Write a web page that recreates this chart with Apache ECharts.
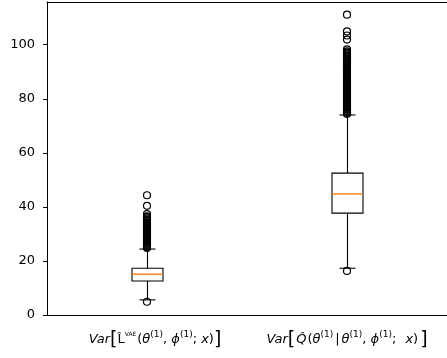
<!DOCTYPE html>
<html>
<head>
<meta charset="utf-8">
<script src="https://cdn.jsdelivr.net/npm/echarts@6/dist/echarts.min.js"></script>
<style>
  html, body { margin: 0; padding: 0; background: #fff; }
  #chart { width: 447px; height: 358px; }
</style>
</head>
<body>
<div id="chart"></div>
<script>
// x categories (rich-text math labels)
var categories = [
  '{gap|}{v|Var}{b|[}{h|L\u0302}{t|VAE}{n|(}{v|θ}{s|(1)}{n|, }{v|ϕ}{s|(1)}{n|; }{v|x}{n|)}{b|]}',
  '{v|Var}{b|[}{hq|Q\u0302}{n|(}{v|θ}{s|(1)}{bar||}{v|θ}{s|(1)}{n|, }{v|ϕ}{s|(1)}{semi|; }{v|x}{n|)}{rb|]}'
];

// box stats: [low whisker, q1, median, q3, high whisker]
var statsL = [5.6, 12.6, 15.1, 17.3, 24.4];
var statsQ = [17.3, 37.7, 44.8, 52.5, 74.0];

// outliers
var outliersL = [4.9,
  24.8, 25.2, 25.5, 25.9, 26.3, 26.6, 27.0, 27.4, 27.8, 28.1, 28.5, 28.8, 29.2, 29.6,
  29.9, 30.3, 30.7, 31.0, 31.4, 31.8, 32.1, 32.5, 32.9, 33.2, 33.6, 34.0, 34.3, 34.7,
  35.1, 35.4, 35.8, 36.2, 36.5, 37.3, 40.4, 44.3];
var outliersQ = [16.3,
  74.4, 74.8, 75.1, 75.5, 75.9, 76.2, 76.6, 77.0, 77.3, 77.7, 78.1, 78.4, 78.8, 79.2,
  79.5, 79.9, 80.3, 80.6, 81.0, 81.4, 81.7, 82.1, 82.5, 82.8, 83.2, 83.6, 83.9, 84.3,
  84.7, 85.0, 85.4, 85.8, 86.1, 86.5, 86.9, 87.2, 87.6, 88.0, 88.3, 88.7, 89.1, 89.4,
  89.8, 90.2, 90.5, 90.9, 91.3, 91.6, 92.0, 92.4, 92.7, 93.1, 93.5, 93.8, 94.2, 94.6,
  94.9, 95.3, 95.7, 96.0, 96.4, 96.8, 97.1, 97.5, 98.3, 101.9, 103.4, 104.9, 111.1];

var yTicks = [0, 20, 40, 60, 80, 100];

var boxData = [[0].concat(statsL), [1].concat(statsQ)];
var fliers = outliersL.map(function (v) { return [0, v]; })
  .concat(outliersQ.map(function (v) { return [1, v]; }));

function renderBox(params, api) {
  var i = api.value(0);
  var pMin = api.coord([i, api.value(1)]);
  var pQ1 = api.coord([i, api.value(2)]);
  var pMed = api.coord([i, api.value(3)]);
  var pQ3 = api.coord([i, api.value(4)]);
  var pMax = api.coord([i, api.value(5)]);
  var cx = Math.round(pMin[0]) + 0.5;
  var half = 15.5, cap = 8;
  var ln = { stroke: '#000', lineWidth: 1.1 };
  return {
    type: 'group',
    children: [
      { type: 'line', shape: { x1: cx, y1: pMin[1], x2: cx, y2: pQ1[1] }, style: ln },
      { type: 'line', shape: { x1: cx, y1: pQ3[1], x2: cx, y2: pMax[1] }, style: ln },
      { type: 'line', shape: { x1: cx - cap, y1: pMin[1], x2: cx + cap, y2: pMin[1] }, style: ln },
      { type: 'line', shape: { x1: cx - cap, y1: pMax[1], x2: cx + cap, y2: pMax[1] }, style: ln },
      { type: 'rect', shape: { x: cx - half, y: pQ3[1], width: half * 2, height: pQ1[1] - pQ3[1] },
        style: { fill: 'none', stroke: '#000', lineWidth: 1.1 } },
      { type: 'line', shape: { x1: cx - half, y1: pMed[1], x2: cx + half, y2: pMed[1] },
        style: { stroke: '#ff7f0e', lineWidth: 1.4 } }
    ]
  };
}

var chart = echarts.init(document.getElementById('chart'), null, { renderer: 'canvas' });
var font = 'DejaVu Sans';
chart.setOption({
  animation: false,
  backgroundColor: '#fff',
  grid: { left: 47, width: 404, top: 2, bottom: 43, show: false },
  xAxis: [{
    type: 'category',
    data: categories,
    axisLine: { lineStyle: { color: '#000', width: 1 } },
    axisTick: { alignWithLabel: true, length: 4, lineStyle: { color: '#000' } },
    axisLabel: {
      interval: 0,
      hideOverlap: false,
      margin: 13,
      color: '#000',
      rich: {
        gap: { width: 16, fontSize: 13 },
        v: { fontFamily: font, fontStyle: 'italic', fontSize: 13, color: '#000' },
        h: { fontFamily: font, fontSize: 13, lineHeight: 24, color: '#000' },
        hq: { fontFamily: font, fontStyle: 'italic', fontSize: 13, lineHeight: 24, color: '#000', padding: [0, 1, 0, 1] },
        n: { fontFamily: font, fontSize: 13, color: '#000' },
        bar: { fontFamily: font, fontSize: 13, color: '#000', padding: [0, 2, 0, 2] },
        semi: { fontFamily: font, fontSize: 13, color: '#000', padding: [0, 5, 0, 0] },
        b: { fontFamily: font, fontSize: 19, lineHeight: 24, color: '#000' },
        rb: { fontFamily: font, fontSize: 19, lineHeight: 24, color: '#000', padding: [0, 0, 0, 2] },
        s: { fontFamily: font, fontSize: 9, color: '#000', verticalAlign: 'top', padding: [2, 0, 0, 0] },
        t: { fontFamily: font, fontSize: 6, color: '#000', verticalAlign: 'top', padding: [3, 1, 0, 0] }
      }
    }
  }, {
    type: 'category',
    position: 'top',
    data: categories,
    axisLine: { lineStyle: { color: '#000', width: 1 } },
    axisTick: { show: false },
    axisLabel: { show: false }
  }],
  yAxis: {
    type: 'value',
    min: 0,
    max: 115.8,
    interval: 20,
    splitLine: { show: false },
    axisLine: { show: true, lineStyle: { color: '#000', width: 1 } },
    axisTick: { show: true, length: 4, customValues: yTicks, lineStyle: { color: '#000' } },
    axisLabel: { customValues: yTicks, margin: 12, fontFamily: font, fontSize: 13, color: '#000' }
  },
  series: [
    {
      type: 'custom',
      renderItem: renderBox,
      data: boxData,
      encode: { x: 0, y: [1, 2, 3, 4, 5] },
      z: 2
    },
    {
      type: 'scatter',
      data: fliers,
      symbol: 'circle',
      symbolSize: 7,
      itemStyle: { color: 'rgba(0,0,0,0)', borderColor: '#000', borderWidth: 1.2, opacity: 1 },
      z: 3
    }
  ]
});
</script>
</body>
</html>
